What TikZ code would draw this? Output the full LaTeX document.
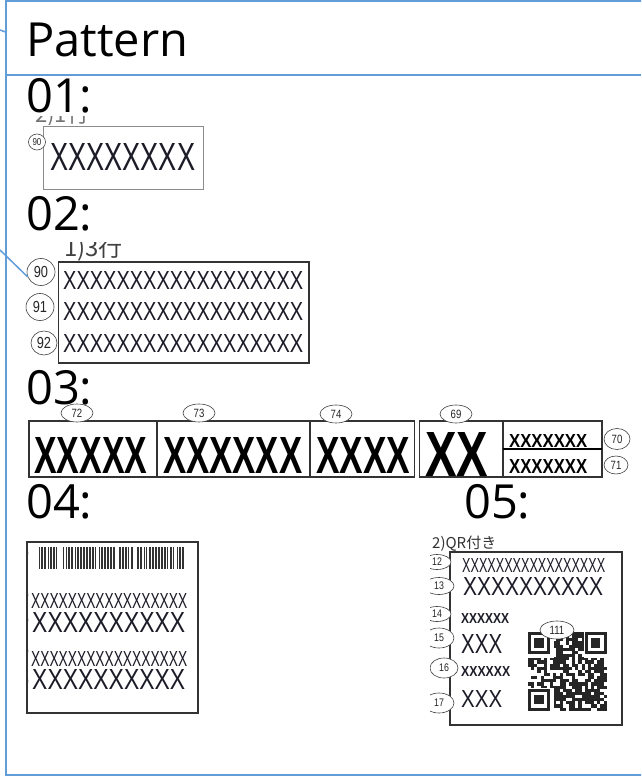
\documentclass[tikz,border=0pt]{standalone}
\usepackage{fontspec}
\usepackage{graphicx}
\usetikzlibrary{shapes.geometric}
\setmainfont{Open Sans}
\newfontfamily\jpfont{Noto Sans CJK JP}
\newfontfamily\xfont{Liberation Sans}
\newfontfamily\nfont{Liberation Sans}[FakeStretch=0.8]
\definecolor{frameblue}{RGB}{98,157,218}
\definecolor{xcol}{RGB}{28,28,40}
\newcommand\xrow[3]{\resizebox{#1pt}{#2pt}{\xfont #3}}
\newcommand\xbrow[3]{\resizebox{#1pt}{#2pt}{\xfont\bfseries #3}}
\tikzset{
  frame/.style={draw=frameblue, line width=2pt},
  conn/.style={draw=frameblue, line width=1.5pt},
  head/.style={anchor=base west, inner sep=0, font=\fontsize{47}{47}\selectfont},
  xr/.style={anchor=north west, inner sep=0, text=xcol},
  lab/.style={draw=black!80, line width=1.2pt},
  numc/.style={draw=black!75, fill=white, ellipse, inner sep=0, line width=0.6pt, text=black!85},
}
\begin{document}
\begin{tikzpicture}[x=1pt,y=-1pt]
\path[use as bounding box] (0,0) rectangle (641,778);
\clip (0,0) rectangle (641,778);
\fill[white] (0,0) rectangle (641,778);

% frame
\draw[frame] (5.5,1.5) rectangle (660,775);
\draw[frame] (5.5,75.5) -- (641,75.5);

% headings
\node[head] (tP) at (26,57) {Pattern};
\node[head] (t01) at (26,113) {01:};
\node[head] (t02) at (26,230) {02:};
\node[head] (t03) at (26,404) {03:};
\node[head] (t04) at (26,518) {04:};
\node[head] (t05) at (464,518) {05:};

% ---------- Pattern 01
\begin{scope}
\clip (30,117) rectangle (100,125);
\node[anchor=base west, inner sep=0, text=black!55, font=\jpfont\fontsize{22}{22}\selectfont] (j1) at (35,123) {2)1行};
\end{scope}
\draw[black!45, line width=1pt] (43,127) rectangle (203,189);
\node[xr] (x01) at (50,143) {\xrow{145}{27}{XXXXXXXX}};
\node[numc, minimum width=17pt, minimum height=16pt, font=\nfont\fontsize{10}{10}\selectfont] (c90a) at (37,142) {90};

% ---------- Pattern 02
\begin{scope}
\clip (60,242) rectangle (140,261);
\node[anchor=base west, inner sep=0, text=black!75, font=\jpfont\fontsize{24}{24}\selectfont] (j2) at (64,256) {1)3行};
\end{scope}
\draw[lab] (58.5,262) rectangle (309,363);
\node[xr] (x02a) at (63,271) {\xrow{240}{18}{XXXXXXXXXXXXXXXXXX}};
\node[xr] (x02b) at (63,302) {\xrow{240}{18}{XXXXXXXXXXXXXXXXXX}};
\node[xr] (x02c) at (63,334) {\xrow{240}{18}{XXXXXXXXXXXXXXXXXX}};
\node[numc, minimum width=28pt, minimum height=27pt, font=\nfont\fontsize{16}{16}\selectfont] (c90) at (41,272) {90};
\node[numc, minimum width=28pt, minimum height=27pt, font=\nfont\fontsize{16}{16}\selectfont] (c91) at (40,307) {91};
\node[numc, minimum width=26pt, minimum height=24pt, font=\nfont\fontsize{16}{16}\selectfont] (c92) at (44,343) {92};

% connectors entering from the left
\coordinate (e1) at (0,30);
\coordinate (e1b) at (5.5,32);
\draw[conn] (e1) -- (e1b);
\coordinate (e2) at (0,250);
\draw[conn] (e2) -- (c90.200);

% ---------- Pattern 03
\draw[lab] (29,421) rectangle (157,477);
\draw[lab] (157.5,421) rectangle (309.5,477);
\draw[lab] (310.5,421) rectangle (414.5,477);
\draw[lab] (419.5,421) rectangle (503,477);
\draw[lab] (503,421) rectangle (602,477);
\draw[black, line width=2pt] (503,449) -- (602,449);
\node[xr, text=black] (x72) at (34,437) {\xbrow{113}{36}{XXXXX}};
\node[xr, text=black] (x73) at (163,437) {\xbrow{139}{36}{XXXXXX}};
\node[xr, text=black] (x74) at (316,437) {\xbrow{94}{36}{XXXX}};
\node[xr, text=black] (x69) at (425,432) {\xbrow{63}{44}{XX}};
\node[xr, text=black] (x70) at (509,434) {\xbrow{78}{13}{XXXXXXX}};
\node[xr, text=black] (x71) at (509,459) {\xbrow{78}{14}{XXXXXXX}};
\node[numc, minimum width=32pt, minimum height=18pt, font=\nfont\fontsize{12}{12}\selectfont] (c72) at (77,413) {72};
\node[numc, minimum width=32pt, minimum height=18pt, font=\nfont\fontsize{12}{12}\selectfont] (c73) at (199,413) {73};
\node[numc, minimum width=32pt, minimum height=18pt, font=\nfont\fontsize{12}{12}\selectfont] (c74) at (336,414) {74};
\node[numc, minimum width=32pt, minimum height=18pt, font=\nfont\fontsize{12}{12}\selectfont] (c69) at (456,414) {69};
\node[numc, minimum width=26pt, minimum height=21pt, font=\nfont\fontsize{12}{12}\selectfont] (c70) at (617,439) {70};
\node[numc, minimum width=24pt, minimum height=18pt, font=\nfont\fontsize{12}{12}\selectfont] (c71) at (616,465) {71};

% ---------- Pattern 04
\begin{scope}
\clip (27,540) rectangle (40,720);
\foreach \yy in {553,595,620,651,681}
  \draw[black!60, line width=0.6pt, fill=white] (20,\yy) circle (8);
\end{scope}
\draw[lab] (27,542) rectangle (198,713);
\pgfmathsetseed{11}
\foreach \k in {0,...,96}{
  \pgfmathrandominteger{\r}{0}{5}
  \ifnum\r>0 \fill[black!80] (39+\k*1.5,547) rectangle ++(1.1,22); \fi
}
\node[xr] (x04a) at (31,593) {\xrow{156}{15}{XXXXXXXXXXXXXXXXX}};
\node[xr] (x04b) at (32,612) {\xrow{153}{20}{XXXXXXXXXX}};
\node[xr] (x04c) at (31,651) {\xrow{156}{15}{XXXXXXXXXXXXXXXXX}};
\node[xr] (x04d) at (32,669) {\xrow{153}{20}{XXXXXXXXXX}};

% ---------- Pattern 05
\node[anchor=base west, inner sep=0, text=black!80, font=\jpfont\fontsize{15}{15}\selectfont] (j5) at (432,548) {2)QR付き};
\draw[lab] (450,552) rectangle (622,725);
\node[xr] (x12) at (462,558) {\xrow{143}{14}{XXXXXXXXXXXXXXXXX}};
\node[xr] (x13) at (463,577) {\xrow{140}{18}{XXXXXXXXXX}};
\node[xr] (x14) at (461,613) {\xbrow{48}{10}{XXXXXX}};
\node[xr] (x15) at (461,634) {\xrow{41}{19}{XXX}};
\node[xr] (x16) at (461,666) {\xbrow{49}{10}{XXXXXX}};
\node[xr] (x17) at (461,690) {\xrow{41}{17}{XXX}};
\begin{scope}
\clip (430,550) rectangle (470,720);
\node[numc, minimum width=28pt, minimum height=15pt, font=\nfont\fontsize{11}{11}\selectfont] (c12) at (437,562) {12};
\node[numc, minimum width=30pt, minimum height=17pt, font=\nfont\fontsize{11}{11}\selectfont] (c13) at (439,586) {13};
\node[numc, minimum width=28pt, minimum height=15pt, font=\nfont\fontsize{11}{11}\selectfont] (c14) at (437,614) {14};
\node[numc, minimum width=30pt, minimum height=20pt, font=\nfont\fontsize{11}{11}\selectfont] (c15) at (439,638) {15};
\node[numc, minimum width=28pt, minimum height=20pt, font=\nfont\fontsize{11}{11}\selectfont] (c16) at (444,668) {16};
\node[numc, minimum width=30pt, minimum height=20pt, font=\nfont\fontsize{11}{11}\selectfont] (c17) at (439,703) {17};
\end{scope}
% QR code
\pgfmathsetseed{5}
\foreach \i in {0,...,24}{
  \foreach \j in {0,...,24}{
    \pgfmathrandominteger{\r}{0}{2}
    \ifnum\r>0 \fill[black!85] (528+\i*3.15,632+\j*3.15) rectangle ++(3.15,3.15); \fi
  }
}
\foreach \fx/\fy in {528/632, 584.7/632, 528/688.7}{
  \fill[white] (\fx-0.5,\fy-0.5) rectangle ++(26.2,26.2);
  \fill[black!85] (\fx,\fy) rectangle ++(22.05,22.05);
  \fill[white] (\fx+3.15,\fy+3.15) rectangle ++(15.75,15.75);
  \fill[black!85] (\fx+6.3,\fy+6.3) rectangle ++(9.45,9.45);
}
\node[numc, minimum width=34pt, minimum height=18pt, font=\nfont\fontsize{12}{12}\selectfont] (c111) at (557,630) {111};
\end{tikzpicture}
\end{document}
